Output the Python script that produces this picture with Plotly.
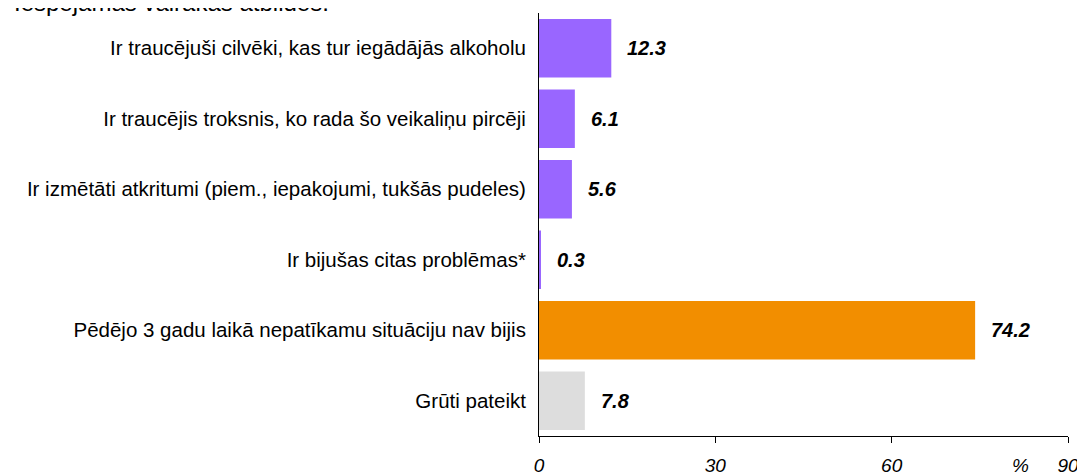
import plotly.graph_objects as go

categories = [
    "Ir traucējuši cilvēki, kas tur iegādājās alkoholu",
    "Ir traucējis troksnis, ko rada šo veikaliņu pircēji",
    "Ir izmētāti atkritumi (piem., iepakojumi, tukšās pudeles)",
    "Ir bijušas citas problēmas*",
    "Pēdējo 3 gadu laikā nepatīkamu situāciju nav bijis",
    "Grūti pateikt",
]
values = [12.3, 6.1, 5.6, 0.3, 74.2, 7.8]
colors = ["#9966FF", "#9966FF", "#9966FF", "#9966FF", "#F28E00", "#DDDDDD"]
tick_vals = [0, 30, 60, 90]
tick_text = ["0", "30", "60", "90"]
title_text = "Iespējamas vairākas atbildes."

# page body has an 8px margin; figure sized to fit inside the window
OFF = 8
W, H = 1085 - OFF, 473 - OFF
L, R, T, B = 539 - OFF, 17, 13 - OFF, 37
PW, PH = W - L - R, H - T - B


def px_x(px):
    return (px - OFF - L) / PW


def px_y(py):
    return (H - B - (py - OFF)) / PH


fig = go.Figure()
fig.add_trace(go.Bar(
    y=categories, x=values, orientation="h",
    marker=dict(color=colors, line=dict(width=0)),
    width=0.83, hoverinfo="skip",
))

for c, v in zip(categories, values):
    fig.add_annotation(
        x=v, y=c, xref="x", yref="y", text=f"<b><i>{v:.1f}</i></b>",
        showarrow=False, xanchor="left", xshift=14,
        font=dict(family="Liberation Sans", size=20, color="black"),
    )

fig.add_annotation(
    x=px_x(1020), y=px_y(465), xref="paper", yref="paper", text="<i>%</i>",
    showarrow=False, xanchor="center", yanchor="middle",
    font=dict(family="Liberation Sans", size=19, color="black"),
)

fig.add_annotation(
    x=px_x(12), y=px_y(18), xref="paper", yref="paper", text=title_text,
    showarrow=False, xanchor="left", yanchor="bottom",
    font=dict(family="Liberation Sans", size=24, color="black"),
)

fig.update_layout(
    width=W, height=H,
    margin=dict(l=L, r=R, t=T, b=B, autoexpand=False),
    paper_bgcolor="white", plot_bgcolor="white",
    showlegend=False,
    font=dict(family="Liberation Sans", size=20.5, color="black"),
    xaxis=dict(
        range=[0, 90], tickvals=tick_vals, ticktext=tick_text,
        showgrid=False, zeroline=False, automargin=False,
        showline=True, linecolor="black", linewidth=1,
        ticks="outside", ticklen=6, tickcolor="black",
        tickfont=dict(family="Liberation Sans", size=19, style="italic"),
        ticklabelstandoff=6,
    ),
    yaxis=dict(
        categoryorder="array", categoryarray=categories[::-1],
        showgrid=False, zeroline=False, automargin=False,
        showline=True, linecolor="black", linewidth=1,
        ticks="", ticklabelstandoff=8,
        tickfont=dict(family="Liberation Sans", size=20.5),
        range=[-0.5, 5.5],
    ),
)
fig.write_html("out.html")
